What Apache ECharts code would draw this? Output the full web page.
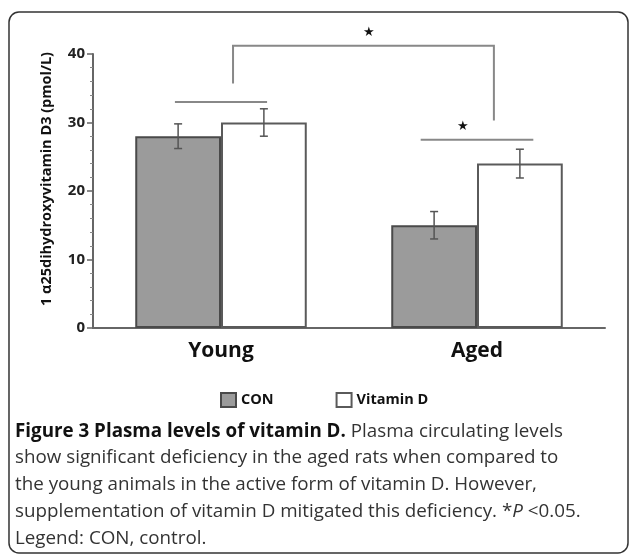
<!DOCTYPE html>
<html>
<head>
<meta charset="utf-8">
<script src="https://cdn.jsdelivr.net/npm/echarts@6/dist/echarts.min.js"></script>
<style>
  html, body { margin: 0; padding: 0; background: #fff; }
  #chart { width: 629px; height: 556px; }
</style>
</head>
<body>
<div id="chart"></div>
<script>
// data
var categories = ['Young', 'Aged'];
var conMean = [28, 15];
var conErr = [1.8, 2];
var vitMean = [30, 24];
var vitErr = [2, 2.1];
// significance marks
var pairLevels = [33, 27.5];
var pairStars = ['', '*'];
var pairStarLevels = [0, 29.5];
var groupBracket = [41.2, 35.7, 30.3]; // top, young end, aged end
var groupStarLevel = 43.1;

var FONT = '"Open Sans", "Noto Sans", sans-serif';

function errorRender(side) {
	return function (params, api) {
		var c = api.value(0);
		var m = api.value(1);
		var e = api.value(2);
		var band = api.size([1, 0])[0];
		var bw = band * 0.67 / 2;
		var x = api.coord([c, 0])[0] + side * bw / 2;
		var top = api.coord([c, m + e])[1];
		var bot = api.coord([c, m - e])[1];
		var st = { stroke: '#555', lineWidth: 1.5 };
		return {
			type: 'group',
			children: [
				{ type: 'line', shape: { x1: x, y1: top, x2: x, y2: bot }, style: st },
				{ type: 'line', shape: { x1: x - 4, y1: top, x2: x + 4, y2: top }, style: st },
				{ type: 'line', shape: { x1: x - 4, y1: bot, x2: x + 4, y2: bot }, style: st }
			]
		};
	};
}

function pairRender(params, api) {
	var c = api.value(0);
	var lvl = api.value(1);
	var band = api.size([1, 0])[0];
	var half = c === 0 ? 0.18 : 0.22;
	var cx = api.coord([c, lvl])[0];
	var y = api.coord([c, lvl])[1];
	var children = [
		{ type: 'line', shape: { x1: cx - half * band, y1: y, x2: cx + half * band, y2: y },
		  style: { stroke: '#888', lineWidth: 2 } }
	];
	if (pairStars[c]) {
		children.push({
			type: 'text',
			style: { text: '★', x: cx - 14, y: api.coord([c, pairStarLevels[c]])[1],
				align: 'center', verticalAlign: 'middle', fontSize: 13, fill: '#111' }
		});
	}
	return { type: 'group', children: children };
}

function groupRender(params, api) {
	var band = api.size([1, 0])[0];
	var xl = api.coord([0, 0])[0] + 0.047 * band;
	var xr = api.coord([1, 0])[0] + 0.066 * band;
	var yt = api.coord([0, groupBracket[0]])[1];
	var yl = api.coord([0, groupBracket[1]])[1];
	var yr = api.coord([0, groupBracket[2]])[1];
	var ys = api.coord([0, groupStarLevel])[1];
	return {
		type: 'group',
		children: [
			{ type: 'polyline', shape: { points: [[xl, yl], [xl, yt], [xr, yt], [xr, yr]] },
			  style: { stroke: '#888', lineWidth: 2, fill: null } },
			{ type: 'text', style: { text: '★', x: (xl + xr) / 2 + 6, y: ys,
				align: 'center', verticalAlign: 'middle', fontSize: 13, fill: '#111' } }
		]
	};
}

var chart = echarts.init(document.getElementById('chart'));
var option = {
	backgroundColor: '#fff',
	animation: false,
	grid: { left: 93, right: 24, top: 54, bottom: 228 },
	legend: {
		left: 215,
		top: 387,
		icon: 'rect',
		itemWidth: 15,
		itemHeight: 14,
		itemGap: 62,
		data: ['CON', 'Vitamin D'],
		textStyle: { fontFamily: FONT, fontWeight: 'bold', fontSize: 14.5, color: '#111' }
	},
	xAxis: {
		type: 'category',
		data: categories,
		axisLine: { lineStyle: { color: '#666', width: 2 } },
		axisTick: { length: 7, lineStyle: { color: '#666', width: 1.5 } },
		axisLabel: { fontFamily: FONT, fontWeight: 'bold', fontSize: 21, color: '#111', margin: 13 }
	},
	yAxis: {
		type: 'value',
		min: 0,
		max: 40,
		interval: 10,
		name: '1 α25dihydroxyvitamin D3 (pmol/L)',
		nameLocation: 'middle',
		nameRotate: 90,
		nameGap: 39,
		nameTextStyle: { fontFamily: FONT, fontWeight: 'bold', fontSize: 14.5, color: '#111', padding: [0, 0, 0, 24] },
		axisLine: { show: true, lineStyle: { color: '#666', width: 2 } },
		axisTick: { show: true, length: 6, lineStyle: { color: '#666', width: 1.5 } },
		minorTick: { show: true, splitNumber: 5, length: 3, lineStyle: { color: '#888' } },
		splitLine: { show: false },
		axisLabel: { fontFamily: FONT, fontWeight: 'bold', fontSize: 15, color: '#222', margin: 8 }
	},
	series: [
		{
			name: 'CON',
			type: 'bar',
			data: conMean,
			barGap: '0%',
			barCategoryGap: '33%',
			itemStyle: { color: '#9b9b9b', borderColor: '#4a4a4a', borderWidth: 2 }
		},
		{
			name: 'Vitamin D',
			type: 'bar',
			data: vitMean,
			barGap: '0%',
			barCategoryGap: '33%',
			itemStyle: { color: '#ffffff', borderColor: '#5a5a5a', borderWidth: 2 }
		},
		{
			type: 'custom',
			renderItem: errorRender(-1),
			data: categories.map(function (c, i) { return [i, conMean[i], conErr[i]]; }),
			z: 5
		},
		{
			type: 'custom',
			renderItem: errorRender(1),
			data: categories.map(function (c, i) { return [i, vitMean[i], vitErr[i]]; }),
			z: 5
		},
		{
			type: 'custom',
			renderItem: pairRender,
			data: categories.map(function (c, i) { return [i, pairLevels[i]]; }),
			z: 5
		},
		{
			type: 'custom',
			renderItem: groupRender,
			data: [[0, groupBracket[0]]],
			z: 5
		}
	],
	graphic: [
		{
			type: 'rect',
			shape: { x: 9, y: 12, width: 619, height: 541, r: 10 },
			style: { stroke: '#333', lineWidth: 1.5, fill: null },
			z: -1
		},
		{
			type: 'text',
			left: 15,
			top: 418,
			style: {
				text: '{b|Figure 3 Plasma levels of vitamin D.} Plasma circulating levels\n' +
					'show significant deficiency in the aged rats when compared to\n' +
					'the young animals in the active form of vitamin D. However,\n' +
					'supplementation of vitamin D mitigated this deficiency. *{i|P} <0.05.\n' +
					'Legend: CON, control.',
				fontFamily: FONT,
				fontSize: 18.8,
				lineHeight: 26.75,
				fill: '#333',
				rich: {
					b: { fontFamily: FONT, fontSize: 18.8, lineHeight: 26.75, fontWeight: 'bold', fill: '#111' },
					i: { fontFamily: FONT, fontSize: 18.8, lineHeight: 26.75, fontStyle: 'italic', fill: '#333' }
				}
			}
		}
	]
};
chart.setOption(option);
</script>
</body>
</html>
